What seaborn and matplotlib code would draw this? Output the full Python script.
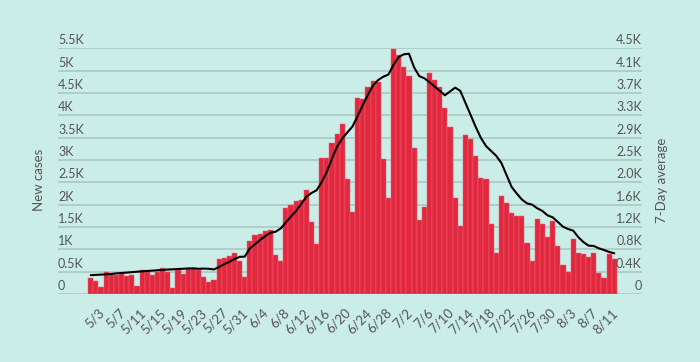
import matplotlib
matplotlib.use("Agg")
import matplotlib.pyplot as plt
import matplotlib.transforms as mtransforms
import numpy as np
import pandas as pd
import seaborn as sns

# daily dates 5/1 .. 8/11
dates = [f"{d.month}/{d.day}" for d in pd.date_range("2020-05-01", "2020-08-11")]

new_cases = [366, 291, 164, 485, 450, 430, 463, 403, 425, 179,
             537, 500, 425, 500, 580, 492, 140, 545, 448, 552,
             567, 545, 380, 269, 313, 783, 806, 850, 914, 742,
             380, 1186, 1320, 1340, 1410, 1432, 873, 739, 1925, 1992,
             2081, 2104, 2327, 1615, 1119, 3048, 3048, 3379, 3581, 3805,
             2574, 1835, 4387, 4364, 4633, 4767, 4745, 3021, 2148, 5483,
             5352, 5080, 4883, 3271, 1656, 1947, 4946, 4789, 4636, 4163,
             3737, 2148, 1522, 3558, 3469, 3088, 2596, 2574, 1567, 918,
             2193, 2033, 1809, 1742, 1746, 1138, 738, 1678, 1563, 1276,
             1634, 1070, 645, 488, 1231, 920, 895, 828, 914, 473,
             362, 899, 783]

avg_7day = [345, 350, 355, 360, 368, 378, 385, 392, 400, 408,
            415, 422, 428, 435, 440, 448, 452, 458, 462, 468,
            470, 462, 465, 462, 450, 495, 545, 590, 640, 680,
            685, 836, 910, 990, 1060, 1120, 1140, 1200, 1310, 1420,
            1520, 1650, 1780, 1850, 1900, 2050, 2240, 2480, 2700, 2850,
            2960, 3070, 3260, 3460, 3650, 3820, 3920, 3980, 4020, 4200,
            4340, 4390, 4400, 4150, 3990, 3950, 3880, 3800, 3720, 3640,
            3710, 3780, 3720, 3500, 3280, 3060, 2860, 2710, 2620, 2530,
            2400, 2180, 1960, 1840, 1730, 1660, 1636, 1570, 1520, 1440,
            1404, 1320, 1233, 1190, 1160, 1040, 950, 885, 880, 836,
            806, 770, 745]

tick_dates = ["5/3", "5/7", "5/11", "5/15", "5/19", "5/23", "5/27", "5/31",
              "6/4", "6/8", "6/12", "6/16", "6/20", "6/24", "6/28", "7/2",
              "7/6", "7/10", "7/14", "7/18", "7/22", "7/26", "7/30", "8/3",
              "8/7", "8/11"]

left_ticks = [0, 500, 1000, 1500, 2000, 2500, 3000, 3500, 4000, 4500, 5000, 5500]
left_labels = ["0", "0.5K", "1K", "1.5K", "2K", "2.5K", "3K", "3.5K", "4K", "4.5K", "5K", "5.5K"]
right_labels = ["0", "0.4K", "0.8K", "1.2K", "1.6K", "2.0K", "2.5K", "2.9K", "3.3K", "3.7K", "4.1K", "4.5K"]

BG = "#CBEDE8"
RED = "#E2283E"
EDGE = "#EC6576"
GRID = "#AAC8C2"
TXT = "#555555"

sns.set_theme(style="white")
plt.rcParams['font.family'] = ['Lato', 'DejaVu Sans']

df = pd.DataFrame({"date": dates, "cases": new_cases, "avg": avg_7day})

fig = plt.figure(figsize=(7, 3.62), dpi=100, facecolor=BG)
ax = fig.add_axes([58 / 700, 68 / 362, 584 / 700, 245.7 / 362])
ax.set_facecolor(BG)

sns.barplot(data=df, x="date", y="cases", color=RED, saturation=1, width=1.0,
            edgecolor=EDGE, linewidth=0.35, ax=ax, zorder=2)

for v in left_ticks:
    ax.axhline(v, color=GRID, lw=1.2, zorder=0)

ax.set_ylim(0, 5500)
ax.set_yticks([])
ax.set_xlabel("")
ax.set_ylabel("")
pos = [dates.index(t) for t in tick_dates]
ax.set_xticks(pos)
ax.set_xticklabels(tick_dates, rotation=45, ha="right", va="top", fontsize=9.5, color=TXT)
ax.tick_params(axis="x", length=0, pad=9)
shift = mtransforms.ScaledTranslation(4 / 72, 0, fig.dpi_scale_trans)
for lbl in ax.get_xticklabels():
    lbl.set_transform(lbl.get_transform() + shift)
for s in ax.spines.values():
    s.set_visible(False)

# tick labels sit just above the gridlines, inside the plot
off = mtransforms.ScaledTranslation(0, 1.5 / 72, fig.dpi_scale_trans)
trans = mtransforms.blended_transform_factory(ax.transAxes, ax.transData) + off
for v, lab_l, lab_r in zip(left_ticks, left_labels, right_labels):
    ax.text(0, v, lab_l, transform=trans, ha="left", va="bottom", fontsize=9, color=TXT)
    ax.text(1, v, lab_r, transform=trans, ha="right", va="bottom", fontsize=9, color=TXT)

ax2 = ax.twinx()
sns.lineplot(x=np.arange(len(avg_7day)), y=avg_7day, ax=ax2, color="black", lw=1.5)
ax2.set_ylim(0, 4500)
ax2.set_yticks([])
ax2.set_ylabel("")
for s in ax2.spines.values():
    s.set_visible(False)

ax.set_xlim(-6.39, 107.4)

fig.text(39 / 700, 1 - 180 / 362, "New cases", rotation=90, ha="center", va="center",
         fontsize=9.5, color=TXT)
fig.text(662 / 700, 1 - 180.7 / 362, "7-Day average", rotation=90, ha="center", va="center",
         fontsize=9.5, color=TXT)

fig.savefig("out.png", dpi=100, facecolor=BG)
